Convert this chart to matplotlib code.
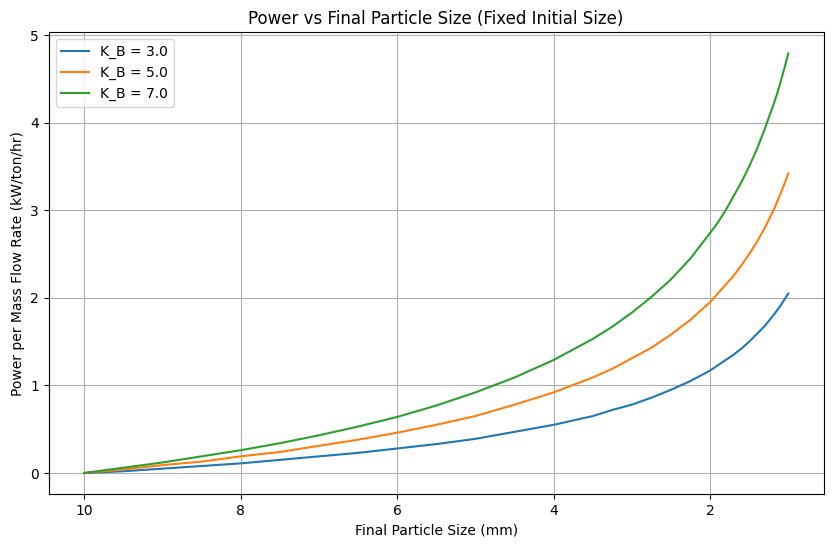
import matplotlib
matplotlib.use("Agg")
import matplotlib.pyplot as plt

# final particle size (mm), initial size fixed at 10 mm
final_size = [10, 9.5, 9, 8.5, 8, 7.5, 7, 6.5, 6, 5.5, 5, 4.5, 4, 3.5, 3.25, 3,
              2.75, 2.5, 2.25, 2, 1.9, 1.8, 1.7, 1.6, 1.5, 1.4, 1.3, 1.2, 1.15,
              1.1, 1.05, 1.0]

# power per mass flow rate (kW/ton/hr)
power_kb3 = [0, 0.02, 0.05, 0.08, 0.11, 0.15, 0.19, 0.23, 0.28, 0.33, 0.39, 0.47,
             0.55, 0.65, 0.72, 0.78, 0.86, 0.95, 1.05, 1.17, 1.23, 1.29, 1.35,
             1.42, 1.50, 1.59, 1.68, 1.79, 1.85, 1.91, 1.98, 2.05]
power_kb5 = [0, 0.04, 0.09, 0.13, 0.19, 0.24, 0.31, 0.38, 0.46, 0.55, 0.65, 0.78,
             0.92, 1.09, 1.19, 1.31, 1.43, 1.58, 1.75, 1.95, 2.05, 2.15, 2.25,
             2.37, 2.50, 2.64, 2.80, 2.98, 3.08, 3.19, 3.30, 3.42]
power_kb7 = [0, 0.06, 0.12, 0.19, 0.26, 0.34, 0.43, 0.53, 0.64, 0.77, 0.92, 1.09,
             1.29, 1.53, 1.67, 1.83, 2.01, 2.21, 2.45, 2.74, 2.86, 3.00, 3.16,
             3.32, 3.50, 3.70, 3.93, 4.18, 4.31, 4.46, 4.62, 4.79]

series = {"K_B = 3.0": power_kb3, "K_B = 5.0": power_kb5, "K_B = 7.0": power_kb7}

fig, ax = plt.subplots(figsize=(8.33, 5.47), dpi=100)
for label, vals in series.items():
    ax.plot(final_size, vals, label=label)

ax.invert_xaxis()
ax.set_title("Power vs Final Particle Size (Fixed Initial Size)")
ax.set_xlabel("Final Particle Size (mm)")
ax.set_ylabel("Power per Mass Flow Rate (kW/ton/hr)")
ax.grid(True)
ax.legend(loc="upper left")
plt.subplots_adjust(left=0.0586, right=0.9886, top=0.9406, bottom=0.0969)
plt.savefig("out.png")
